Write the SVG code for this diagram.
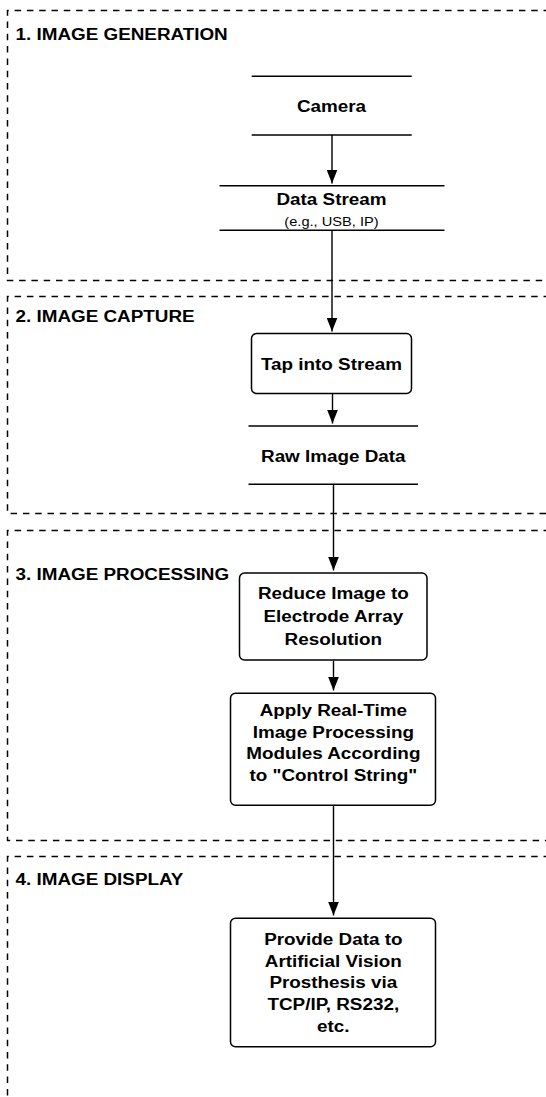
<svg xmlns="http://www.w3.org/2000/svg" width="546" height="1097" viewBox="0 0 546 1097">
<style>
.sec{fill:none;stroke:#000;stroke-width:1.5;stroke-dasharray:6.5 5.8}
.title{font-family:"Liberation Sans",Arial,Helvetica,sans-serif;font-weight:bold;font-size:17px;fill:#000}
.lbl{font-family:"Liberation Sans",Arial,Helvetica,sans-serif;font-weight:bold;font-size:17px;fill:#000;text-anchor:middle}
.sub{font-family:"Liberation Sans",Arial,Helvetica,sans-serif;font-size:12px;fill:#000;text-anchor:middle}
.box{fill:#fff;stroke:#000;stroke-width:1.5}
.store{stroke:#000;stroke-width:1.6;fill:none}
.conn{stroke:#000;stroke-width:1.4;fill:none;marker-end:url(#arrow)}
</style>
<defs>
<marker id="arrow" markerUnits="userSpaceOnUse" viewBox="0 0 14 11" refX="14" refY="5.5" markerWidth="14" markerHeight="11" orient="auto">
<path d="M0,0 L14,5.5 L0,11 Z" fill="#000"/>
</marker>
</defs>
<rect width="546" height="1097" fill="#fff"/>
<g id="sections">
<g id="section1"><path class="sec" d="M550,10.5 H7.5 V280.5 H550"/><text class="title" transform="translate(15.5,0) scale(1.11,1)" x="0" y="40.5">1. IMAGE GENERATION</text></g>
<g id="section2"><path class="sec" d="M550,296.5 H7.5 V513.5 H550"/><text class="title" transform="translate(15.5,0) scale(1.11,1)" x="0" y="322.5">2. IMAGE CAPTURE</text></g>
<g id="section3"><path class="sec" d="M550,530.5 H7.5 V840.5 H550"/><text class="title" transform="translate(15.5,0) scale(1.11,1)" x="0" y="580">3. IMAGE PROCESSING</text></g>
<g id="section4"><path class="sec" d="M550,856.5 H7.5 V1100"/><text class="title" transform="translate(15.5,0) scale(1.11,1)" x="0" y="885">4. IMAGE DISPLAY</text></g>
</g>
<g id="connectors">
<line class="conn" x1="332" y1="135" x2="332" y2="183.5"/>
<line class="conn" x1="332" y1="230.5" x2="332" y2="331.5"/>
<line class="conn" x1="332.5" y1="393.5" x2="332.5" y2="423.5"/>
<line class="conn" x1="333.5" y1="484.5" x2="333.5" y2="570.5"/>
<line class="conn" x1="333.5" y1="660.5" x2="333.5" y2="690.5"/>
<line class="conn" x1="333.5" y1="806" x2="333.5" y2="915.5"/>
</g>
<g id="camera">
<line class="store" x1="251.7" y1="76.3" x2="411.7" y2="76.3"/>
<line class="store" x1="251.7" y1="135" x2="411.7" y2="135"/>
<text class="lbl" transform="translate(331.5,0) scale(1.11,1)" x="0" y="112.3">Camera</text>
</g>
<g id="data-stream">
<line class="store" x1="219.5" y1="185.7" x2="444.5" y2="185.7"/>
<line class="store" x1="219.5" y1="230.3" x2="444.5" y2="230.3"/>
<text class="lbl" transform="translate(331.5,0) scale(1.11,1)" x="0" y="205.5">Data Stream</text>
<text class="sub" transform="translate(331.5,0) scale(1.22,1)" x="0" y="226">(e.g., USB, IP)</text>
</g>
<g id="tap-into-stream">
<rect class="box" x="251.5" y="333.5" width="160" height="60" rx="5"/>
<text class="lbl" transform="translate(331.5,0) scale(1.11,1)" x="0" y="370">Tap into Stream</text>
</g>
<g id="raw-image-data">
<line class="store" x1="248.5" y1="426" x2="418" y2="426"/>
<line class="store" x1="248.5" y1="484.3" x2="418" y2="484.3"/>
<text class="lbl" transform="translate(333.3,0) scale(1.11,1)" x="0" y="461.7">Raw Image Data</text>
</g>
<g id="reduce-image">
<rect class="box" x="239.5" y="573" width="187.5" height="87" rx="5"/>
<text class="lbl" transform="translate(333.3,0) scale(1.11,1)" x="0" y="599.5"><tspan x="0">Reduce Image to</tspan><tspan x="0" dy="22.7">Electrode Array</tspan><tspan x="0" dy="22.7">Resolution</tspan></text>
</g>
<g id="apply-processing">
<rect class="box" x="230.5" y="693.3" width="205" height="112" rx="5"/>
<text class="lbl" transform="translate(333.3,0) scale(1.11,1)" x="0" y="716"><tspan x="0">Apply Real-Time</tspan><tspan x="0" dy="21.6">Image Processing</tspan><tspan x="0" dy="21.6">Modules According</tspan><tspan x="0" dy="21.6">to "Control String"</tspan></text>
</g>
<g id="provide-data">
<rect class="box" x="230.5" y="918.3" width="205" height="128.5" rx="5"/>
<text class="lbl" transform="translate(333.3,0) scale(1.11,1)" x="0" y="945"><tspan x="0">Provide Data to</tspan><tspan x="0" dy="21.7">Artificial Vision</tspan><tspan x="0" dy="21.7">Prosthesis via</tspan><tspan x="0" dy="21.7">TCP/IP, RS232,</tspan><tspan x="0" dy="21.7">etc.</tspan></text>
</g>
</svg>
